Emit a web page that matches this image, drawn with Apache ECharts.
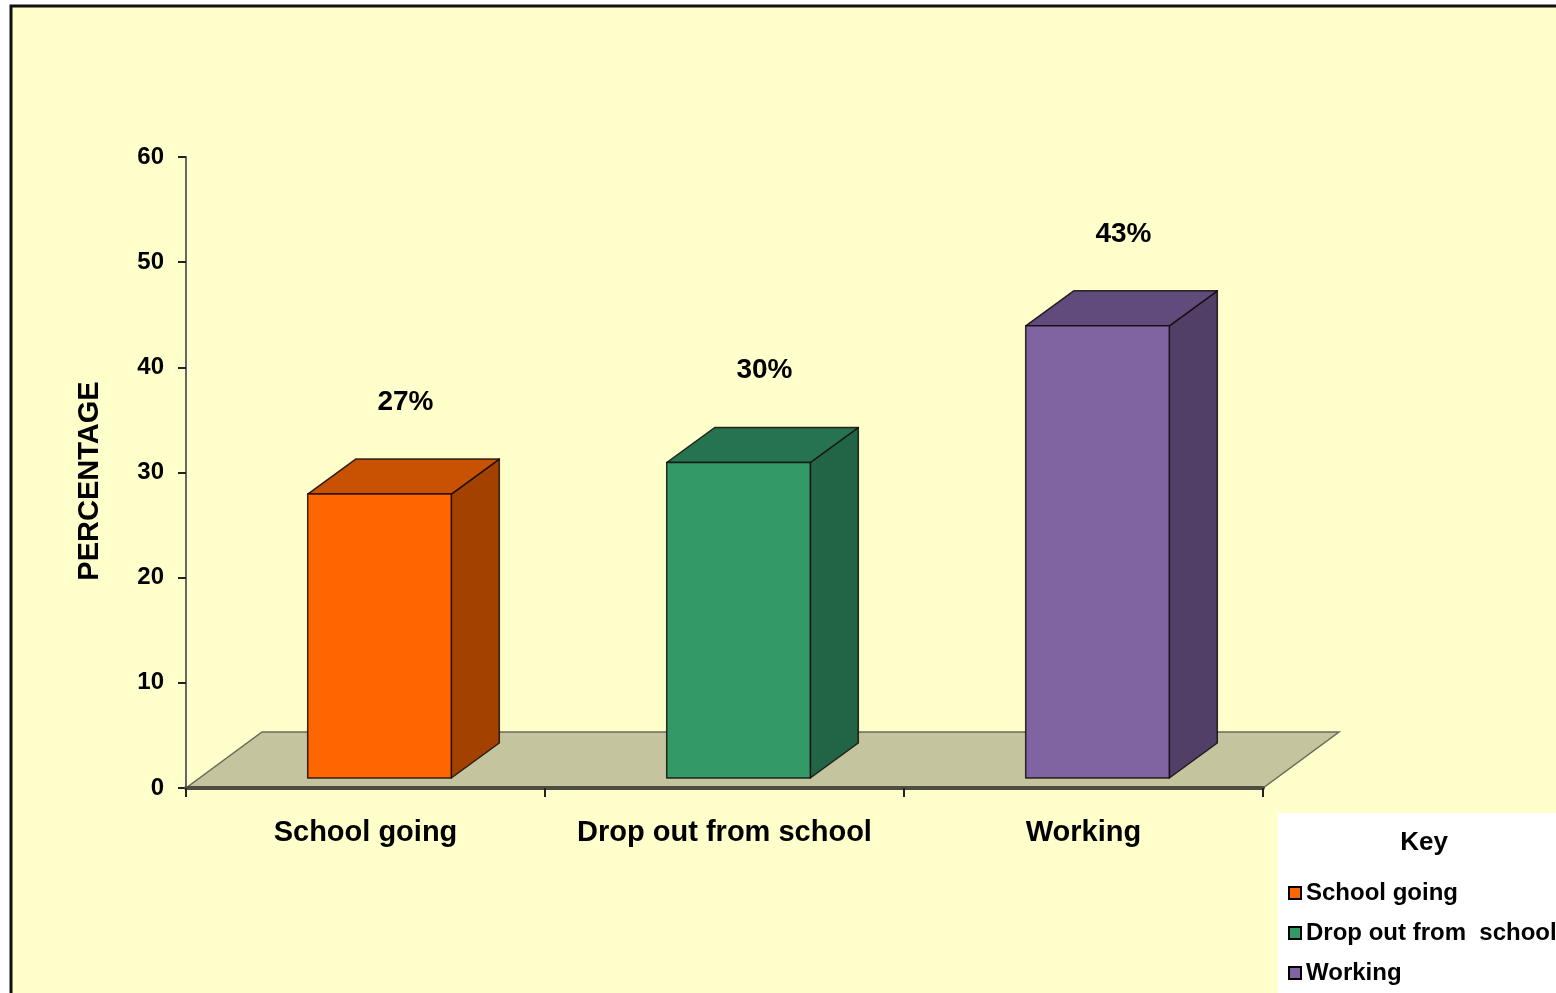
<!DOCTYPE html>
<html>
<head>
<meta charset="utf-8">
<title>Percentage by status</title>
<script src="https://cdn.jsdelivr.net/npm/echarts@6/dist/echarts.min.js"></script>
<style>
  html, body { margin: 0; padding: 0; background: #ffffff; }
  #chart { width: 1556px; height: 993px; }
</style>
</head>
<body>
<div id="chart"></div>
<script>
// Share of young people in each group (percent)
const categories = ['School going', 'Drop out from school', 'Working'];
const values = [27, 30, 43];
const yTicks = [0, 10, 20, 30, 40, 50, 60];

// Face colours for each box: front, top, side
const frontColors = ['#ff6600', '#339966', '#8064a2'];
const topColors = ['#c95102', '#267350', '#614b7d'];
const sideColors = ['#a34200', '#216446', '#523f68'];

// Depth of the floor and of each box, in pixels
const FLOOR_DX = 76, FLOOR_DY = -56;
const BOX_OX = 14, BOX_OY = -10;
const BOX_DX = 48, BOX_DY = -35;

const FONT = '"Liberation Sans", Arial, sans-serif';

const chart = echarts.init(document.getElementById('chart'), null, { renderer: 'canvas' });

function renderFloor(params, api) {
  const cs = params.coordSys;
  const x0 = cs.x, x1 = cs.x + cs.width, yb = cs.y + cs.height;
  return {
    type: 'polygon',
    shape: {
      points: [[x0, yb], [x1, yb], [x1 + FLOOR_DX, yb + FLOOR_DY], [x0 + FLOOR_DX, yb + FLOOR_DY]]
    },
    style: { fill: '#c4c49e', stroke: '#6b6b5a', lineWidth: 1.5 }
  };
}

function renderBox(params, api) {
  const idx = api.value(0);
  const v = api.value(1);
  const base = api.coord([idx, 0]);
  const top = api.coord([idx, v]);
  const band = api.size([1, 0])[0];
  const w = band * 0.4;
  const fl = base[0] - w / 2 + BOX_OX;
  const fr = fl + w;
  const fb = base[1] + BOX_OY;
  const ft = top[1] + BOX_OY;
  const edge = { stroke: 'rgba(20,10,10,0.85)', lineWidth: 1.5, lineJoin: 'round' };
  return {
    type: 'group',
    children: [
      {
        type: 'polygon',
        shape: { points: [[fr, ft], [fr + BOX_DX, ft + BOX_DY], [fr + BOX_DX, fb + BOX_DY], [fr, fb]] },
        style: Object.assign({ fill: sideColors[idx] }, edge)
      },
      {
        type: 'polygon',
        shape: { points: [[fl, ft], [fr, ft], [fr + BOX_DX, ft + BOX_DY], [fl + BOX_DX, ft + BOX_DY]] },
        style: Object.assign({ fill: topColors[idx] }, edge)
      },
      {
        type: 'rect',
        shape: { x: fl, y: ft, width: w, height: fb - ft },
        style: Object.assign({ fill: frontColors[idx] }, edge)
      },
      {
        type: 'text',
        x: (fl + fr) / 2 + 26,
        y: ft - 92,
        style: {
          text: v + '%',
          fill: '#000',
          font: 'bold 28px ' + FONT,
          align: 'center',
          verticalAlign: 'middle'
        }
      }
    ]
  };
}

const boxSeries = categories.map((name, i) => ({
  name: name,
  type: 'custom',
  renderItem: renderBox,
  itemStyle: { color: frontColors[i] },
  encode: { x: 0, y: 1 },
  data: [[i, values[i]]],
  z: 5,
  silent: true
}));

const option = {
  backgroundColor: '#ffffff',
  animation: false,
  textStyle: { fontFamily: FONT },
  graphic: [
    {
      type: 'rect',
      z: -10,
      shape: { x: 11, y: 6, width: 1560, height: 1000 },
      style: { fill: '#ffffcc', stroke: '#111', lineWidth: 3 }
    },
    {
      type: 'rect',
      z: -5,
      shape: { x: 1278, y: 813, width: 290, height: 190 },
      style: { fill: '#ffffff' }
    },
    {
      type: 'text',
      z: 10,
      x: 1424,
      y: 843,
      style: {
        text: 'Key',
        fill: '#000',
        font: 'bold 26px ' + FONT,
        align: 'center',
        verticalAlign: 'middle'
      }
    },
    {
      type: 'text',
      z: 10,
      x: 90,
      y: 481,
      rotation: Math.PI / 2,
      style: {
        text: 'PERCENTAGE',
        fill: '#000',
        font: 'bold 29px ' + FONT,
        align: 'center',
        verticalAlign: 'middle'
      }
    }
  ],
  grid: { left: 186, top: 157, width: 1077, height: 631, containLabel: false },
  legend: {
    orient: 'vertical',
    left: 1283,
    top: 876,
    itemWidth: 12,
    itemHeight: 12,
    itemGap: 16,
    icon: 'rect',
    itemStyle: { borderColor: '#000', borderWidth: 2 },
    textStyle: {
      color: '#000',
      fontSize: 24,
      lineHeight: 24,
      fontWeight: 'bold',
      fontFamily: FONT
    },
    formatter: name => (name === 'Drop out from school' ? 'Drop out from  school' : name),
    data: categories,
    selectedMode: false
  },
  xAxis: {
    type: 'category',
    data: categories,
    boundaryGap: true,
    axisLine: { show: true, lineStyle: { color: '#4d4d40', width: 4 } },
    axisTick: { show: true, length: 9, lineStyle: { color: '#222', width: 2 } },
    axisLabel: {
      color: '#000',
      fontSize: 29,
      fontWeight: 'bold',
      margin: 30,
      interval: 0
    },
    splitLine: { show: false },
    z: 6
  },
  yAxis: {
    type: 'value',
    min: 0,
    max: 60,
    interval: 10,
    axisLine: { show: true, lineStyle: { color: '#666670', width: 2 } },
    axisTick: { show: true, length: 8, lineStyle: { color: '#222', width: 2 } },
    axisLabel: {
      color: '#000',
      fontSize: 24,
      fontWeight: 'bold',
      margin: 22,
      formatter: v => (yTicks.indexOf(v) >= 0 ? String(v) : '')
    },
    splitLine: { show: false }
  },
  series: [
    {
      name: 'floor',
      type: 'custom',
      renderItem: renderFloor,
      data: [[0, 0]],
      encode: { x: 0, y: 1 },
      z: 1,
      silent: true
    }
  ].concat(boxSeries)
};

chart.setOption(option);
</script>
</body>
</html>
